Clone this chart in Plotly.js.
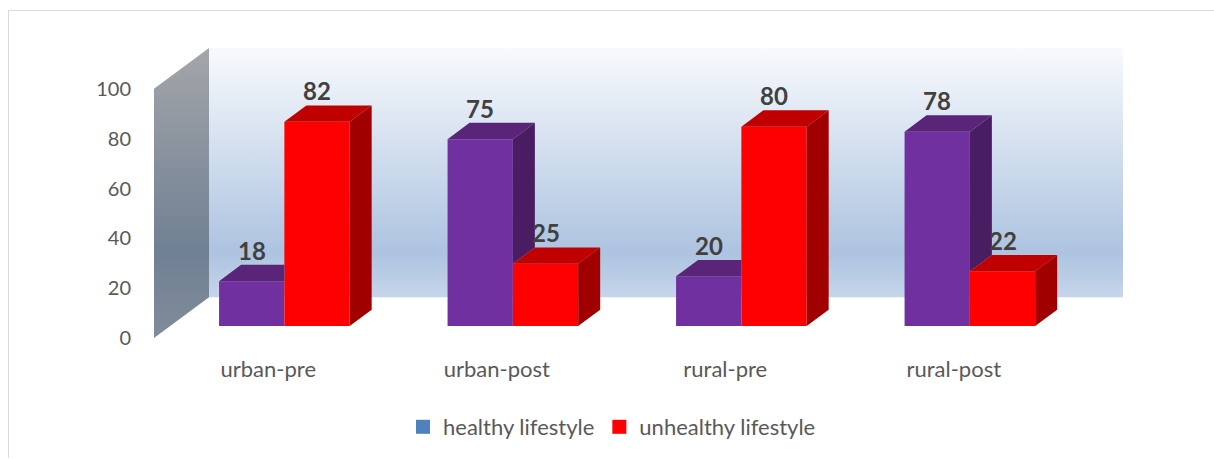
<!DOCTYPE html>
<html>
<head>
<meta charset="utf-8">
<script src="https://cdn.plot.ly/plotly-3.0.1.min.js"></script>
<style>html,body{margin:0;padding:0;background:#fff;}#chart{width:1214px;height:459px;}</style>
</head>
<body>
<div id="chart"></div>
<script>
// ---- data ----
const categories = ['urban-pre', 'urban-post', 'rural-pre', 'rural-post'];
const healthy = [18, 75, 20, 78];
const unhealthy = [82, 25, 80, 22];
const seriesNames = ['healthy lifestyle', 'unhealthy lifestyle'];
const yTicks = [0, 20, 40, 60, 80, 100];

// ---- styles ----
const frontColors = ['#7030A0', '#FF0000'];
const topColors = ['#5A2479', '#C00000'];
const sideColors = ['#4A1D63', '#A00000'];
const legendColors = ['#4F81BD', '#FF0000'];
const FONT = 'Lato, "Open Sans", sans-serif';

// ---- geometry (pixels) ----
const PLOT = {l: 140, r: 1140, t: 40, b: 350};
const PX_X = 228.5, PX_Y = 2.5;            // px per category / per unit
const X0PX = 154, Y0PX = 339;              // front plane: x=-0.5, y=0
const WALL_DX = 55, WALL_DY = 41;          // depth of floor in px
const BAR_F = 0.293, BAR_D = 0.40;         // bar front depth fraction / bar depth fraction
const BAR_W = 65.3 / PX_X;
const YMAX = 100;

const xA = [-0.5 - (X0PX - PLOT.l) / PX_X, -0.5 + (PLOT.r - X0PX) / PX_X];
const yA = [-(PLOT.b - Y0PX) / PX_Y, (Y0PX - PLOT.t) / PX_Y];
const sx = BAR_F * WALL_DX / PX_X, sy = BAR_F * WALL_DY / PX_Y;
const xB = [xA[0] - sx, xA[1] - sx];
const yB = [yA[0] - sy, yA[1] - sy];
const wdx = WALL_DX / PX_X, wdy = WALL_DY / PX_Y;
const bdx = BAR_D * WALL_DX / PX_X, bdy = BAR_D * WALL_DY / PX_Y;
const nCat = categories.length;

const traces = [];
// walls (subplot A)
traces.push({
  type: 'scatter', mode: 'lines', xaxis: 'x', yaxis: 'y', hoverinfo: 'skip', showlegend: false,
  x: [-0.5, -0.5 + wdx, -0.5 + wdx, -0.5, -0.5],
  y: [0, wdy, YMAX + wdy, YMAX, 0],
  fill: 'toself', line: {width: 0},
  fillgradient: {type: 'vertical', colorscale: [[0, '#808c9b'], [0.3, '#708093'], [1, '#a4a6aa']]}
});
traces.push({
  type: 'scatter', mode: 'lines', xaxis: 'x', yaxis: 'y', hoverinfo: 'skip', showlegend: false,
  x: [-0.5 + wdx, nCat - 0.5 + wdx, nCat - 0.5 + wdx, -0.5 + wdx, -0.5 + wdx],
  y: [wdy, wdy, YMAX + wdy, YMAX + wdy, wdy],
  fill: 'toself', line: {width: 0},
  fillgradient: {type: 'vertical', colorscale: [[0, '#c6d5ea'], [0.18, '#adc3e0'], [1, '#f8fafd']]}
});

// bar front faces (subplot B)
const series = [healthy, unhealthy];
series.forEach((vals, s) => {
  traces.push({
    type: 'bar', xaxis: 'x2', yaxis: 'y2', name: seriesNames[s], showlegend: false,
    x: categories.map((c, i) => i), y: vals,
    offset: s === 0 ? -BAR_W : 0, width: BAR_W,
    marker: {color: frontColors[s], line: {width: 0}}, hoverinfo: 'skip'
  });
});

// 3D faces
const faces = [];
{
  const tx = [], ty = [], sxs = [], sys = [];
  healthy.forEach((h, i) => {
    const L = i - BAR_W, R = i, u = unhealthy[i];
    if (u >= h + bdy) {
      tx.push(L, L + bdx, R, R, L, null); ty.push(h, h + bdy, h + bdy, h, h, null);
    } else {
      tx.push(L, L + bdx, R + bdx, R, L, null); ty.push(h, h + bdy, h + bdy, h, h, null);
    }
    if (h > u) {
      sxs.push(R, R + bdx, R + bdx, R, R, null); sys.push(u, u + bdy, h + bdy, h, u, null);
    }
  });
  faces.push({x: tx, y: ty, c: topColors[0]});
  faces.push({x: sxs, y: sys, c: sideColors[0]});
}
{
  const tx = [], ty = [], sxs = [], sys = [];
  unhealthy.forEach((v, i) => {
    const L = i, R = i + BAR_W;
    tx.push(L, L + bdx, R + bdx, R, L, null); ty.push(v, v + bdy, v + bdy, v, v, null);
    sxs.push(R, R + bdx, R + bdx, R, R, null); sys.push(0, bdy, v + bdy, v, 0, null);
  });
  faces.push({x: tx, y: ty, c: topColors[1]});
  faces.push({x: sxs, y: sys, c: sideColors[1]});
}
faces.forEach(f => traces.push({
  type: 'scatter', mode: 'lines', xaxis: 'x2', yaxis: 'y2', hoverinfo: 'skip', showlegend: false,
  x: f.x, y: f.y, fill: 'toself', fillcolor: f.c, line: {width: 0}
}));

// legend entries
seriesNames.forEach((n, s) => traces.push({
  type: 'scatter', mode: 'markers', xaxis: 'x2', yaxis: 'y2', name: n, x: [null], y: [null],
  marker: {color: legendColors[s], symbol: 'square', size: 14}, showlegend: true, hoverinfo: 'skip'
}));

// data labels
const annotations = [];
series.forEach((vals, s) => vals.forEach((v, i) => {
  annotations.push({
    xref: 'x2', yref: 'y2', x: s === 0 ? i - BAR_W / 2 : i + BAR_W / 2, y: v + bdy,
    text: String(v), showarrow: false, xanchor: 'center', yanchor: 'bottom', yshift: -2,
    font: {family: FONT, size: 24, color: '#404040', weight: 'bold'}
  });
}));

const W = 1214, H = 459;
const pw = PLOT.r - PLOT.l, ph = PLOT.b - PLOT.t;
const px2paperX = p => (p - PLOT.l) / pw;
const px2paperY = p => (PLOT.b - p) / ph;

const layout = {
  width: W, height: H,
  margin: {l: PLOT.l, r: W - PLOT.r, t: PLOT.t, b: H - PLOT.b, pad: 0},
  paper_bgcolor: '#ffffff', plot_bgcolor: 'rgba(0,0,0,0)',
  barmode: 'overlay',
  font: {family: FONT, color: '#595959'},
  xaxis: {range: xA, tickvals: categories.map((c, i) => i), ticktext: categories,
          showgrid: false, zeroline: false, showline: false, ticks: '',
          tickfont: {size: 22, color: '#595959', family: FONT}, ticklabelstandoff: 5, fixedrange: true},
  yaxis: {range: yA, tickvals: yTicks, showgrid: false, zeroline: false, showline: false, ticks: '',
          tickfont: {size: 20, color: '#595959', family: FONT}, ticklabelstandoff: 8, fixedrange: true},
  xaxis2: {range: xB, overlaying: 'x', visible: false, fixedrange: true},
  yaxis2: {range: yB, overlaying: 'y', visible: false, fixedrange: true},
  showlegend: true,
  legend: {orientation: 'h', x: px2paperX(612), xanchor: 'center', y: px2paperY(427), yanchor: 'middle',
           font: {size: 22, color: '#595959', family: FONT}, bgcolor: 'rgba(0,0,0,0)'},
  annotations: annotations,
  shapes: [{type: 'path', xref: 'paper', yref: 'paper', layer: 'above',
            path: `M ${px2paperX(8.5)} ${px2paperY(H)} L ${px2paperX(8.5)} ${px2paperY(10.5)} L ${px2paperX(W)} ${px2paperY(10.5)}`,
            line: {color: '#d9d9d9', width: 1}}]
};

Plotly.newPlot('chart', traces, layout, {displayModeBar: false, staticPlot: true});
</script>
</body>
</html>
